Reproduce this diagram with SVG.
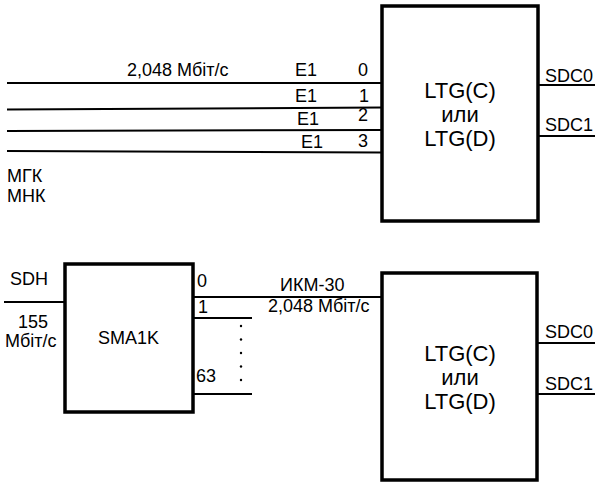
<svg xmlns="http://www.w3.org/2000/svg" width="595" height="482" viewBox="0 0 595 482">
<style>
text{font-family:"Liberation Sans",Arial,sans-serif;font-size:18px;fill:#000}
.big{font-size:22px;text-anchor:middle}
.box{fill:#fff;stroke:#000;stroke-width:3.5}
.ln{stroke:#000;stroke-width:2;fill:none}
</style>
<rect width="595" height="482" fill="#fff"/>
<g id="connectors">
<line class="ln" x1="7" y1="83" x2="382" y2="83"/>
<line class="ln" x1="7" y1="109.5" x2="382" y2="107.5"/>
<line class="ln" x1="7" y1="131" x2="382" y2="130"/>
<line class="ln" x1="7" y1="151" x2="382" y2="152.5"/>
<line class="ln" x1="538" y1="85" x2="595" y2="85"/>
<line class="ln" x1="538" y1="136" x2="595" y2="136"/>
<line class="ln" x1="4" y1="302" x2="65" y2="302"/>
<line class="ln" x1="193" y1="297" x2="382" y2="297"/>
<line class="ln" x1="193" y1="318" x2="252" y2="318"/>
<line class="ln" x1="193" y1="394" x2="252" y2="394"/>
<line class="ln" x1="537" y1="343" x2="595" y2="343"/>
<line class="ln" x1="537" y1="394" x2="595" y2="394"/>
<g fill="#000">
<circle cx="241" cy="326" r="1.2"/>
<circle cx="241" cy="339.5" r="1.2"/>
<circle cx="241" cy="353" r="1.2"/>
<circle cx="241" cy="366.5" r="1.2"/>
<circle cx="241" cy="380" r="1.2"/>
</g>
<text x="127" y="76">2,048 Мбіт/с</text>
<text x="295" y="76">E1</text>
<text x="358" y="76">0</text>
<text x="295" y="102">E1</text>
<text x="359" y="102">1</text>
<text x="297" y="125">E1</text>
<text x="358" y="121">2</text>
<text x="301" y="148">E1</text>
<text x="358" y="147">3</text>
<text x="7" y="182">МГК</text>
<text x="7" y="202">МНК</text>
<text x="545" y="82">SDC0</text>
<text x="545" y="131">SDC1</text>
<text x="10" y="285">SDH</text>
<text x="18" y="328">155</text>
<text x="5" y="347">Мбіт/с</text>
<text x="197" y="287">0</text>
<text x="198" y="313">1</text>
<text x="196" y="382">63</text>
<text x="280" y="291">ИКМ-30</text>
<text x="268" y="312">2,048 Мбіт/с</text>
<text x="545" y="338">SDC0</text>
<text x="545" y="390">SDC1</text>
</g>
<g id="ltg-top">
<rect class="box" x="382" y="6" width="156" height="215"/>
<text class="big" x="460" y="98">LTG(C)</text>
<text class="big" x="460" y="122">или</text>
<text class="big" x="460" y="146">LTG(D)</text>
</g>
<g id="sma1k">
<rect class="box" x="65" y="264" width="128" height="148"/>
<text x="98" y="344">SMA1K</text>
</g>
<g id="ltg-bottom">
<rect class="box" x="382" y="273" width="155" height="207"/>
<text class="big" x="460" y="361">LTG(C)</text>
<text class="big" x="460" y="385">или</text>
<text class="big" x="460" y="409">LTG(D)</text>
</g>
</svg>
